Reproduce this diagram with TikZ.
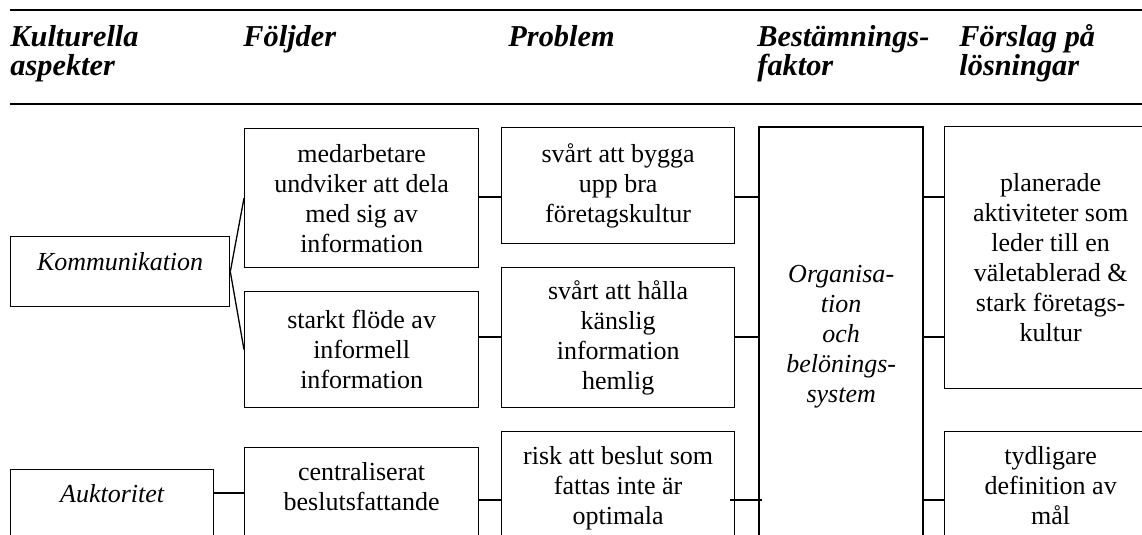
\documentclass[tikz,border=0pt]{standalone}
\usepackage{fontspec}
\setmainfont{Liberation Serif}
\usetikzlibrary{positioning}
\def\pxu{0.4615pt}
\newcommand{\bodyfont}{\fontsize{12}{13.85}\selectfont}

\begin{document}
\begin{tikzpicture}[
x=\pxu, y=-\pxu,
texts/.style = {text=black, font=\bodyfont},
aspecttexts/.style = {text=black, font=\bodyfont\itshape},
headtexts/.style = {text=black, font=\fontsize{14}{13.4}\selectfont\bfseries\itshape, anchor=base west, align=left, inner sep=0pt},
boxline/.style = {draw=black, line width=0.6pt},
boxnode/.style = {texts, boxline, align=center, anchor=north west, inner sep=0pt},
cutnode/.style = {boxnode, text depth=200pt, inner ysep=7pt},
orgnode/.style = {cutnode, aspecttexts, line width=1.1pt, inner ysep=63.7pt},
link/.style = {draw=black, line width=0.6pt},
rule/.style = {draw=black, line width=0.8pt}
]
\useasboundingbox (0,0) rectangle (1142,535);
\clip (0,0) rectangle (1142,535);

\draw[rule] (10,10) -- (1142,10);
\draw[rule] (10,104) -- (1142,104);
% two-line heads sit on their last line
\node[headtexts] (haspekt) at (10,76) {Kulturella\\aspekter};
\node[headtexts] (hfoljd) at (243,47) {Följder};
\node[headtexts] (hprobl) at (508,47) {Problem};
\node[headtexts] (hbestam) at (757,76) {Bestämnings-\\faktor};
\node[headtexts] (hforsl) at (959,76) {Förslag på\\lösningar};

\coordinate (r1) at (0,197);
\coordinate (r2) at (0,337);
\coordinate (r3) at (0,493);
\coordinate (r4) at (0,500);

\node[boxnode, aspecttexts, minimum width=219*\pxu, minimum height=70*\pxu, text height=8.3pt, text depth=9.2pt] (komm) at (10,236) {Kommunikation};
\node[cutnode, aspecttexts, minimum width=203*\pxu] (aukt) at (10,469) {Auktoritet};

\node[boxnode, minimum width=234*\pxu, minimum height=139*\pxu] (foljd1) at (244,128) {medarbetare\\undviker att dela\\med sig av\\information};
\node[boxnode, minimum width=234*\pxu, minimum height=116*\pxu] (foljd2) at (244,291) {starkt flöde av\\informell\\information};
\node[cutnode, minimum width=234*\pxu] (foljd3) at (244,447) {centraliserat\\beslutsfattande};

\node[boxnode, minimum width=233*\pxu, minimum height=116*\pxu] (probl1) at (501,127) {svårt att bygga\\upp bra\\företagskultur};
\node[boxnode, minimum width=233*\pxu, minimum height=140*\pxu] (probl2) at (501,267) {svårt att hålla\\känslig\\information\\hemlig};
\node[cutnode, minimum width=233*\pxu] (probl3) at (501,431) {risk att beslut som\\fattas inte är\\optimala};

\node[orgnode, minimum width=164*\pxu] (org) at (758,126) {Organisa-\\tion\\och\\belönings-\\system};

\node[boxnode, minimum width=212*\pxu, minimum height=262*\pxu] (forsl1) at (944,126) {planerade\\aktiviteter som\\leder till en\\väletablerad \&\\stark företags-\\kultur};
\node[cutnode, minimum width=212*\pxu] (forsl2) at (944,431) {tydligare\\definition av\\mål};

\draw[link] (komm.east) -- (foljd1.west);
\draw[link] (komm.east) -- (foljd2.west);
\draw[link] (aukt.east |- r3) -- (foljd3.west |- r3);
\draw[link] (foljd1.east |- r1) -- (probl1.west |- r1);
\draw[link] (foljd2.east |- r2) -- (probl2.west |- r2);
\draw[link] (foljd3.east |- r4) -- (probl3.west |- r4);
\draw[link] (probl1.east |- r1) -- (org.west |- r1);
\draw[link] (probl2.east |- r2) -- (org.west |- r2);
\draw[link] ([xshift=-2.3pt]probl3.east |- r4) -- ([xshift=1.8pt]org.west |- r4);
\draw[link] (org.east |- r1) -- (forsl1.west |- r1);
\draw[link] (org.east |- r2) -- (forsl1.west |- r2);
\draw[link] (org.east |- r4) -- (forsl2.west |- r4);
\end{tikzpicture}
\end{document}
